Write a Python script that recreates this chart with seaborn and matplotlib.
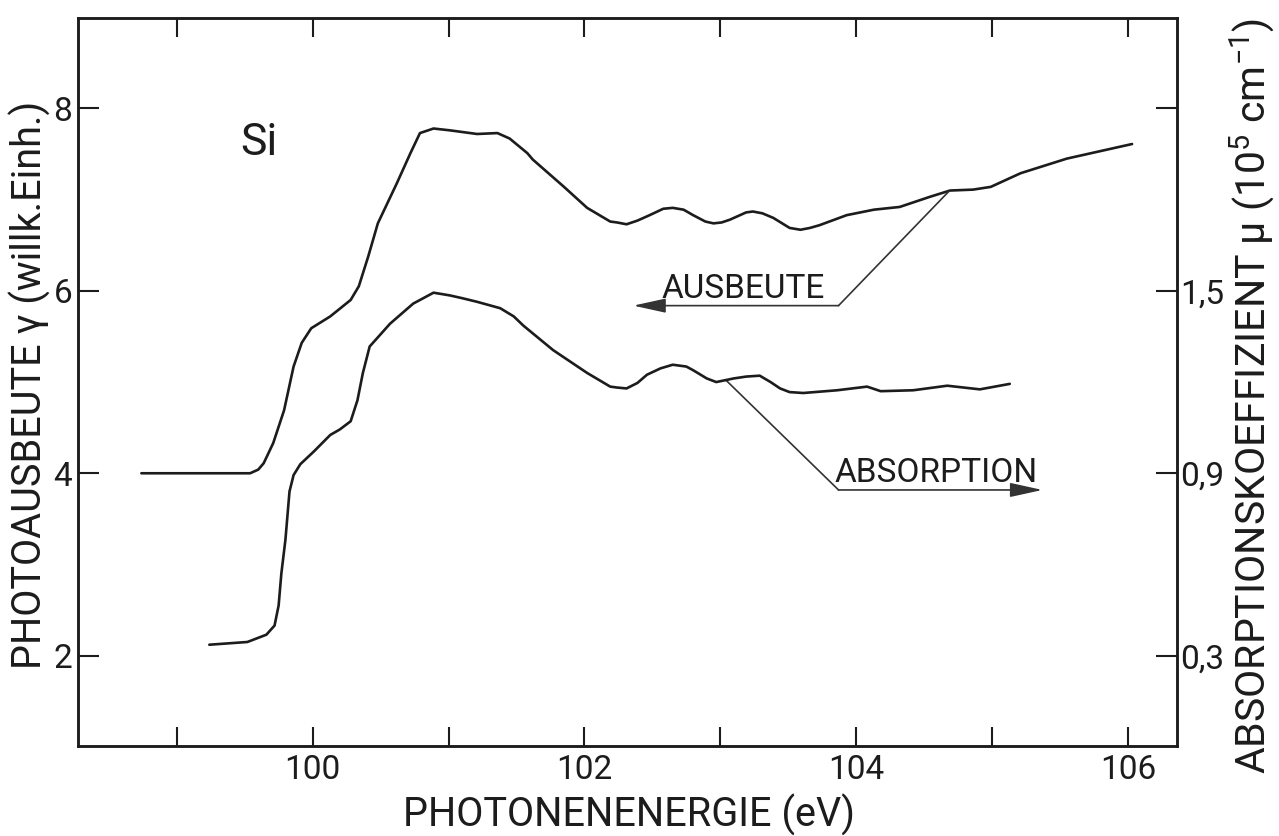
import matplotlib
matplotlib.use("Agg")
import matplotlib.pyplot as plt
from matplotlib import font_manager
import seaborn as sns

# Photoyield of Si near the L2,3 edge (arbitrary units, left axis)
energy_yield = [98.74, 99.54, 99.60, 99.64, 99.71, 99.79, 99.86, 99.92, 99.99,
                100.13, 100.28, 100.34, 100.41, 100.48, 100.62, 100.72, 100.79,
                100.89, 101.01, 101.21, 101.36, 101.45, 101.58, 101.62, 101.85,
                102.02, 102.19, 102.24, 102.31, 102.39, 102.48, 102.58, 102.65,
                102.73, 102.80, 102.89, 102.95, 103.01, 103.07, 103.19, 103.24,
                103.31, 103.39, 103.51, 103.59, 103.66, 103.73, 103.93, 104.13,
                104.32, 104.54, 104.69, 104.86, 104.99, 105.21, 105.55, 106.03]
photo_yield = [4.00, 4.00, 4.04, 4.11, 4.33, 4.69, 5.17, 5.43, 5.59,
               5.72, 5.90, 6.05, 6.38, 6.74, 7.18, 7.51, 7.73,
               7.78, 7.76, 7.72, 7.73, 7.67, 7.51, 7.44, 7.14,
               6.91, 6.76, 6.75, 6.73, 6.77, 6.83, 6.90, 6.91,
               6.89, 6.83, 6.76, 6.74, 6.75, 6.78, 6.86, 6.87,
               6.85, 6.80, 6.69, 6.67, 6.69, 6.72, 6.83, 6.89,
               6.92, 7.03, 7.10, 7.11, 7.14, 7.29, 7.45, 7.61]

# Absorption coefficient mu in 1e5 cm^-1 (right axis)
energy_abs = [99.24, 99.52, 99.66, 99.72, 99.75, 99.77, 99.80, 99.83, 99.86,
              99.91, 100.01, 100.13, 100.20, 100.28, 100.33, 100.37, 100.42,
              100.57, 100.74, 100.89, 101.01, 101.10, 101.21, 101.38, 101.48,
              101.55, 101.77, 102.02, 102.19, 102.24, 102.31, 102.39, 102.46,
              102.56, 102.65, 102.75, 102.80, 102.90, 102.97, 103.10, 103.19,
              103.29, 103.37, 103.44, 103.51, 103.61, 103.86, 104.08, 104.18,
              104.42, 104.67, 104.91, 105.13]
absorption = [0.336, 0.345, 0.369, 0.399, 0.465, 0.570, 0.681, 0.840, 0.894,
              0.930, 0.972, 1.026, 1.044, 1.071, 1.140, 1.230, 1.317,
              1.392, 1.458, 1.494, 1.485, 1.476, 1.464, 1.443, 1.416,
              1.386, 1.305, 1.230, 1.185, 1.182, 1.179, 1.197, 1.224,
              1.245, 1.257, 1.251, 1.239, 1.212, 1.200, 1.212, 1.218,
              1.221, 1.200, 1.179, 1.167, 1.164, 1.173, 1.185, 1.170,
              1.173, 1.188, 1.176, 1.194]

energy_major = [100, 102, 104, 106]
energy_minor = [99, 101, 103, 105]
yield_ticks = [2, 4, 6, 8]
abs_ticks = [0.3, 0.9, 1.5, 2.1]
abs_tick_labels = ["0,3", "0,9", "1,5", ""]

# mu = MU_SCALE * yield + MU_OFFSET links the two vertical scales
MU_SCALE, MU_OFFSET = 0.3, -0.3
XLIM = (98.272, 106.361)
YLIM = (1.010, 8.992)

INK = "#1c1c1c"
LEADER = "#333333"

sns.set_theme(style="white")
installed = {f.name for f in font_manager.fontManager.ttflist}
FONT = "Roboto" if "Roboto" in installed else "DejaVu Sans"
plt.rcParams["font.family"] = [FONT, "DejaVu Sans"]
plt.rcParams["mathtext.fontset"] = "custom"
plt.rcParams["mathtext.rm"] = FONT
plt.rcParams["mathtext.it"] = FONT
plt.rcParams["text.color"] = INK

fig = plt.figure(figsize=(12.79, 8.36), dpi=100)
ax = fig.add_axes([0.0608, 0.1077, 0.8595, 0.8708])
ax2 = ax.twinx()

line_kw = dict(color=INK, linewidth=1.9, estimator=None, sort=False,
               solid_joinstyle="round", solid_capstyle="round")
sns.lineplot(x=energy_yield, y=photo_yield, ax=ax, **line_kw)
sns.lineplot(x=energy_abs, y=absorption, ax=ax2, **line_kw)

ax.set_xlim(*XLIM)
ax.set_ylim(*YLIM)
ax2.set_ylim(MU_SCALE * YLIM[0] + MU_OFFSET, MU_SCALE * YLIM[1] + MU_OFFSET)

ax.set_xticks(energy_major)
ax.set_xticks(energy_minor, minor=True)
ax.set_xticklabels([str(v) for v in energy_major])
ax.set_yticks(yield_ticks)
ax.set_yticklabels([str(v) for v in yield_ticks])
ax2.set_yticks(abs_ticks)
ax2.set_yticklabels(abs_tick_labels)

ax.tick_params(axis="x", which="both", direction="in", length=14, width=1.5,
               bottom=True, top=True, labelsize=24, pad=6, colors=INK)
ax.tick_params(axis="y", direction="in", length=15, width=1.5, left=True,
               right=False, labelsize=24, pad=4, colors=INK)
ax2.tick_params(axis="y", direction="in", length=15, width=1.5, right=True,
                labelsize=24, pad=2, colors=INK)

for a in (ax, ax2):
    a.set_xlabel("")
    a.set_ylabel("")
    for sp in a.spines.values():
        sp.set_visible(True)
        sp.set_linewidth(1.8)
        sp.set_color(INK)

# Labels in the plot area
ax.text(99.608, 7.49, "Si", fontsize=32, ha="center", va="baseline")
ax.text(103.17, 5.922, "AUSBEUTE", fontsize=24, ha="center", va="baseline")
ax.text(104.588, 3.905, "ABSORPTION", fontsize=24, ha="center", va="baseline")

# Leader lines with arrows pointing to the relevant axis
arrow_kw = dict(arrowstyle="-|>,head_length=1.0,head_width=0.22",
                mutation_scale=20, lw=1.2, color=LEADER,
                shrinkA=0, shrinkB=0)
ax.plot([104.68, 103.87], [7.088, 5.838], color=LEADER, lw=1.2)
ax.annotate("", xy=(102.36, 5.838), xytext=(103.87, 5.838), arrowprops=arrow_kw)
ax.plot([103.04, 103.87], [5.023, 3.817], color=LEADER, lw=1.2)
ax.annotate("", xy=(105.37, 3.817), xytext=(103.87, 3.817), arrowprops=arrow_kw)

# Axis titles
fig.text(629 / 1279, 1 - 815 / 836, "PHOTONENENERGIE (eV)", fontsize=28.5,
         ha="center", va="center")
fig.text(30 / 1279, 1 - 385 / 836, "PHOTOAUSBEUTE γ (willk.Einh.)",
         fontsize=28.5, rotation=90, ha="center", va="center")
fig.text(1252 / 1279, 1 - 396 / 836,
         "ABSORPTIONSKOEFFIZIENT μ (10$^{5}$ cm$^{-1}$)",
         fontsize=29.5, rotation=90, ha="center", va="center")

fig.savefig("out.png", dpi=100, facecolor="white")
